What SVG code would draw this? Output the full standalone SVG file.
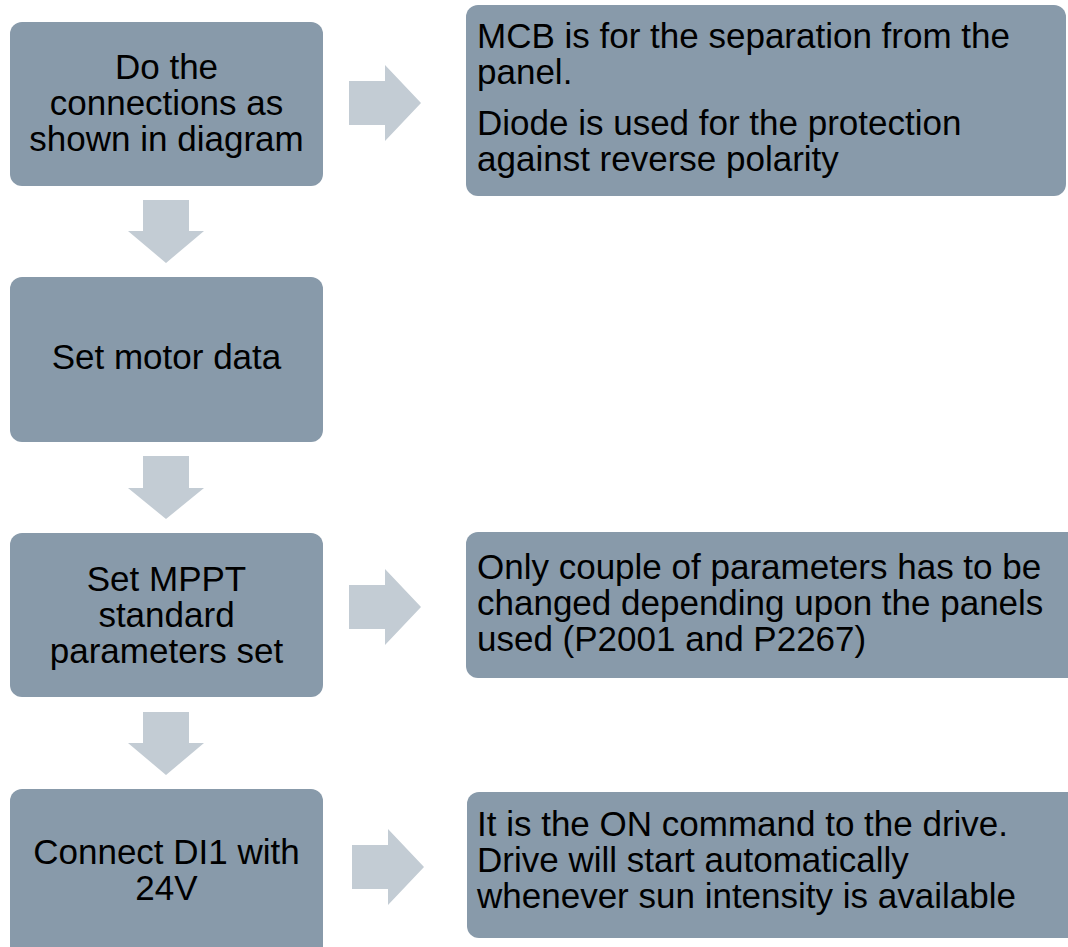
<svg xmlns="http://www.w3.org/2000/svg" width="1068" height="947" viewBox="0 0 1068 947">
<style>
.box{fill:#889aaa;}
.arr{fill:#c3ccd4;}
text{font-family:"Liberation Sans",Arial,sans-serif;font-size:35px;fill:#000;}
.c{text-anchor:middle;}
</style>
<rect width="1068" height="947" fill="#ffffff"/>
<g id="connectors">
<polygon class="arr" points="349,81 385,81 385,65 421,103 385,141 385,125 349,125"/>
<polygon class="arr" points="349,585 385,585 385,569 421,607 385,645 385,629 349,629"/>
<polygon class="arr" points="352,845 388,845 388,829 424,867 388,905 388,889 352,889"/>
<polygon class="arr" points="143,200 189,200 189,231 204,231 166,263 128,231 143,231"/>
<polygon class="arr" points="143,456 189,456 189,488 204,488 166,519 128,488 143,488"/>
<polygon class="arr" points="143,712 189,712 189,743 204,743 166,775 128,743 143,743"/>
</g>
<g id="step1">
<rect class="box" x="10" y="22" width="313" height="164" rx="12"/>
<text class="c" x="166.5" y="79">Do the</text>
<text class="c" x="166.5" y="115">connections as</text>
<text class="c" x="166.5" y="151">shown in diagram</text>
</g>
<g id="step2">
<rect class="box" x="10" y="277" width="313" height="165" rx="12"/>
<text class="c" x="166.5" y="369">Set motor data</text>
</g>
<g id="step3">
<rect class="box" x="10" y="533" width="313" height="164" rx="12"/>
<text class="c" x="166.5" y="591">Set MPPT</text>
<text class="c" x="166.5" y="627">standard</text>
<text class="c" x="166.5" y="663">parameters set</text>
</g>
<g id="step4">
<rect class="box" x="10" y="789" width="313" height="175" rx="12"/>
<text class="c" x="166.5" y="864">Connect DI1 with</text>
<text class="c" x="166.5" y="900">24V</text>
</g>
<g id="note1">
<rect class="box" x="466" y="5" width="600" height="191" rx="12"/>
<text x="477" y="48">MCB is for the separation from the</text>
<text x="477" y="84">panel.</text>
<text x="477" y="135">Diode is used for the protection</text>
<text x="477" y="171">against reverse polarity</text>
</g>
<g id="note3">
<rect class="box" x="466" y="532" width="620" height="146" rx="12"/>
<text x="477" y="579">Only couple of parameters has to be</text>
<text x="477" y="615">changed depending upon the panels</text>
<text x="477" y="651">used (P2001 and P2267)</text>
</g>
<g id="note4">
<rect class="box" x="467" y="792" width="620" height="146" rx="12"/>
<text x="477" y="836">It is the ON command to the drive.</text>
<text x="477" y="872">Drive will start automatically</text>
<text x="477" y="908">whenever sun intensity is available</text>
</g>
</svg>
